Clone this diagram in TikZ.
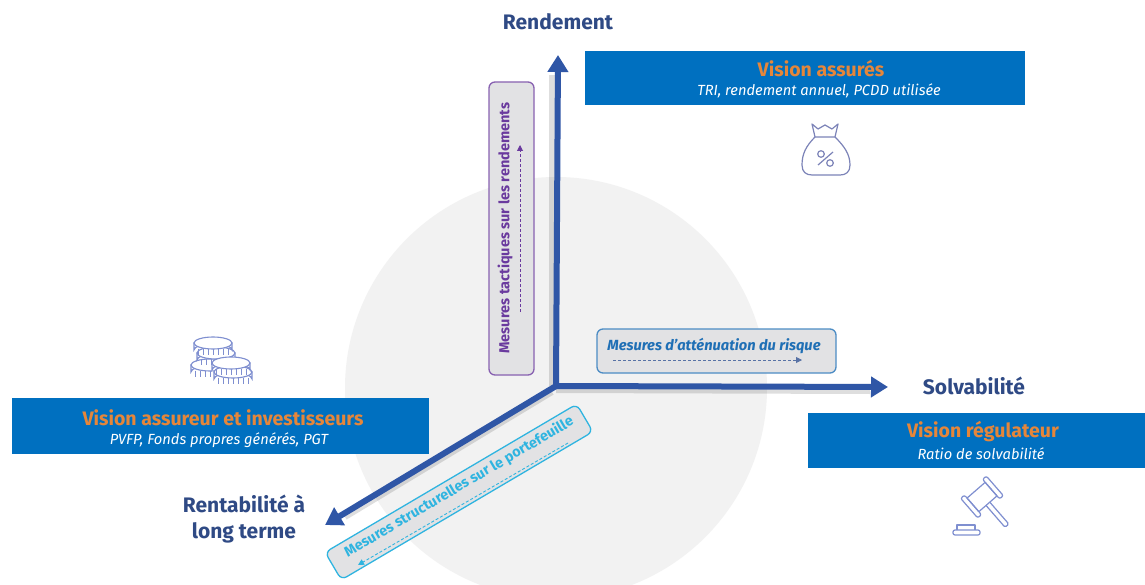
\documentclass[tikz,border=0pt]{standalone}
\usepackage{fontspec}
\setmainfont{Fira Sans}
\usetikzlibrary{arrows.meta,calc}
\definecolor{axisblue}{HTML}{2F56A6}
\definecolor{axisdark}{HTML}{2F4F8F}
\definecolor{titleblue}{HTML}{2F4A85}
\definecolor{boxblue}{HTML}{0070C0}
\definecolor{visorange}{HTML}{E5863A}
\definecolor{disc}{HTML}{F2F2F2}
\definecolor{tagfill}{HTML}{E2E2E4}
\definecolor{purp}{HTML}{6A3A9E}
\definecolor{midblue}{HTML}{1F6FB5}
\definecolor{cyanb}{HTML}{2FB4E0}
\definecolor{iconb}{HTML}{7C83B8}
\definecolor{iconc}{HTML}{7F8FD0}
\tikzset{
 axisline/.style={line width=6pt,axisblue,-{Triangle[length=17pt,width=20pt]}},
 axisshadow/.style={line width=6pt,black,opacity=.13},
 titlelabel/.style={font=\bfseries\fontsize{21}{26}\selectfont,text=titleblue,align=center},
 visionbox/.style={fill=boxblue,draw=none,anchor=north west,inner sep=0pt},
 vistitle/.style={font=\bfseries\fontsize{19.5}{22}\selectfont,text=visorange},
 vissub/.style={font=\itshape\fontsize{14.7}{17}\selectfont,text=white},
 tagbox/.style={rounded corners=6pt,line width=1.3pt,fill=tagfill,inner sep=0pt},
 tagtext/.style={font=\bfseries\fontsize{14.5}{16}\selectfont},
 tagarrow/.style={densely dashed,line width=.9pt,-{Triangle[length=6pt,width=6pt]}},
 iconline/.style={line width=1.2pt,iconb,line join=round},
 coinline/.style={line width=1.1pt,iconc,fill=white},
 gavelline/.style={line width=1.2pt,iconc,fill=white,line join=round},
}
\newcommand{\onecoin}[2]{%
 \begin{scope}[shift={(#1,#2)}]
  \draw[coinline] (-19,0) -- (-19,7) arc[start angle=180,end angle=360,x radius=19,y radius=6] -- (19,0) -- cycle;
  \foreach \k in {-15,-10,-5,0,5,10,15}{\draw[iconc,line width=.8pt] (\k,5.5) -- (\k,12);}
  \draw[coinline] (0,0) ellipse[x radius=19,y radius=6];
 \end{scope}}
\begin{document}
\begin{tikzpicture}[x=1pt,y=-1pt]
\useasboundingbox (0,0) rectangle (1145,585);
\fill[white] (0,0) rectangle (1145,585);
\fill[disc] (556,388) circle[radius=211];
% blue boxes
\node[visionbox,minimum width=440pt,minimum height=54pt] (vA) at (585,51) {};
\node[vistitle] (vAt) at (821,69) {Vision assurés};
\node[vissub] (vAs) at (819,91) {TRI, rendement annuel, PCDD utilisée};
\node[visionbox,minimum width=417pt,minimum height=56pt] (vI) at (12,398) {};
\node[vistitle] (vIt) at (223,418) {Vision assureur et investisseurs};
\node[vissub] (vIs) at (219,440) {PVFP, Fonds propres générés, PGT};
\node[visionbox,minimum width=337pt,minimum height=55pt] (vR) at (808,413) {};
\node[vistitle] (vRt) at (983,432) {Vision régulateur};
\node[vissub] (vRs) at (981,454) {Ratio de solvabilité};
% axes
\coordinate (O) at (556,386);
\coordinate (U) at (558,55);
\coordinate (R) at (888,387);
\coordinate (L) at (325,525);
\draw[axisshadow] (552,386) -- (552,75);
\draw[axisshadow] (O) ++(0,4) -- (870,391);
\draw[axisshadow] (552,392) -- (345,517);
\draw[axisline] (O) -- (U);
\draw[axisline] (O) -- (R);
\draw[axisline] (O) -- (L);
% labels
\node[titlelabel] (tR) at (558,22) {Rendement};
\node[titlelabel] (tS) at (974,386) {Solvabilité};
\node[titlelabel] (tL) at (244,519) {Rentabilité à\\long terme};
% tag: purple
\node[tagbox,draw=purp!80,minimum width=45pt,minimum height=293pt] (tp) at (511.5,228.5) {};
\node[tagtext,text=purp,rotate=90] (tpt) at (505,228) {Mesures tactiques sur les rendements};
\coordinate (tpa) at (520,312);\coordinate (tpb) at (520,145);
\draw[tagarrow,purp] (tpa) -- (tpb);
% tag: mid blue
\node[tagbox,draw=midblue!80,minimum width=239pt,minimum height=44pt] (tb) at (716.5,351) {};
\node[tagtext,text=midblue,font=\bfseries\itshape\fontsize{14.7}{16}\selectfont] (tbt) at (714,346) {Mesures d’atténuation du risque};
\coordinate (tba) at (613,360);\coordinate (tbb) at (802,360);
\draw[tagarrow,axisdark!80] (tba) -- (tbb);
% tag: cyan
\node[tagbox,draw=cyanb,rotate=30.5,minimum width=292pt,minimum height=32pt] (tc) at (459,492) {};
\node[tagtext,text=cyanb,rotate=30.5,font=\bfseries\fontsize{14.4}{16}\selectfont] (tct) at (459,487) {Mesures structurelles sur le portefeuille};
\coordinate (tca) at (568,443);\coordinate (tcb) at (358,565);
\draw[tagarrow,cyanb] (tca) -- (tcb);
% money bag
\begin{scope}[iconline]
 \draw (812,124) -- (818,129) -- (825,125) -- (832,129) -- (838,124) -- (835,137) -- (815,137) -- cycle;
 \draw (815,137) .. controls (806,146) and (802,154) .. (802,165) .. controls (802,172) and (806,175) .. (812,175) -- (840,175) .. controls (846,175) and (850,172) .. (850,165) .. controls (850,154) and (844,146) .. (835,137);
 \draw (833,152) -- (818,165);
 \draw (821,154) circle[radius=3.3];
 \draw (830,163) circle[radius=3.3];
\end{scope}
% coins
\onecoin{210}{365}
\onecoin{216}{353}
\onecoin{213}{343}
\onecoin{233}{372}
\onecoin{231}{363}
% gavel
\begin{scope}[gavelline]
 \draw[rounded corners=2pt] (953,535) -- (980,535) -- (980,530) -- (953,530) -- cycle;
 \draw (957,530) -- (957,525) -- (975,525) -- (975,530);
 \begin{scope}[shift={(982,497)},rotate=41]
  \draw[rounded corners=1.5pt] (-2.5,9) -- (-2.5,38) -- (2.5,38) -- (2.5,9);
  \draw (-12,-9) rectangle (12,9);
  \draw[rounded corners=2pt] (-17,-13) rectangle (-12,13);
  \draw[rounded corners=2pt] (12,-13) rectangle (17,13);
 \end{scope}
\end{scope}
\end{tikzpicture}
\end{document}
